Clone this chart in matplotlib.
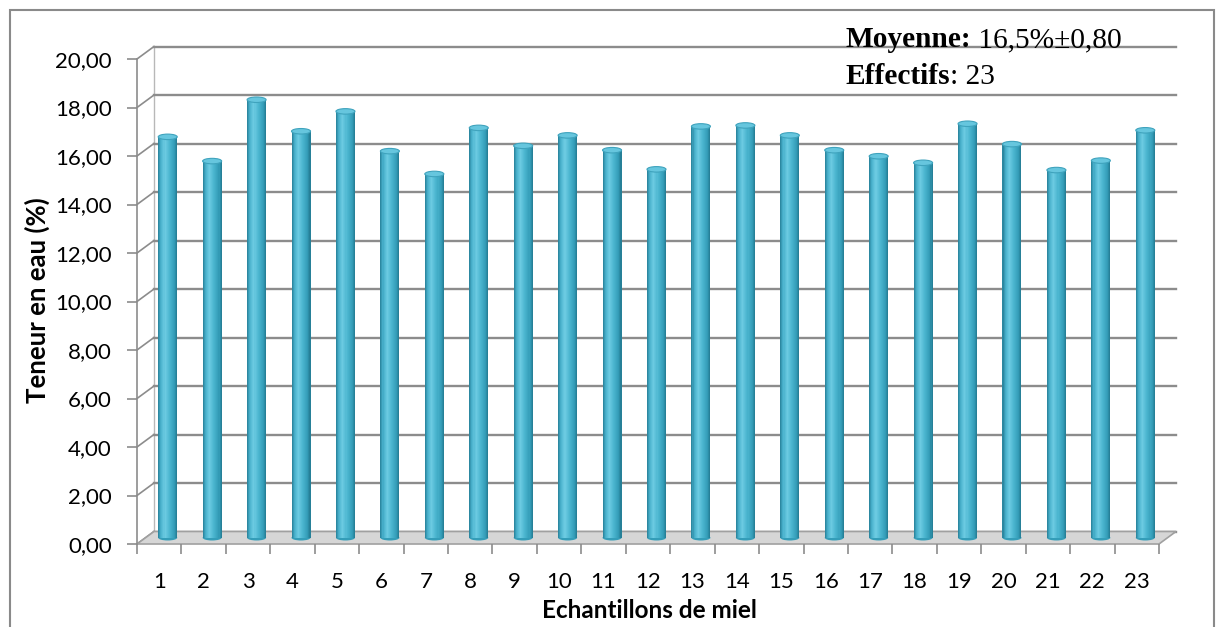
import numpy as np
import matplotlib
matplotlib.use("Agg")
import matplotlib.pyplot as plt
from matplotlib.patches import Polygon, Ellipse, Rectangle
from matplotlib.colors import LinearSegmentedColormap

# data
samples = [str(i) for i in range(1, 24)]
teneur = [16.79, 15.79, 18.32, 17.02, 17.84, 16.20, 15.26, 17.16, 16.42, 16.85, 16.24, 15.45,
          17.22, 17.26, 16.85, 16.24, 15.99, 15.72, 17.33, 16.49, 15.42, 15.81, 17.06]
yticks = np.arange(0, 21, 2)
ytick_labels = [("%.2f" % v).replace(".", ",") for v in yticks]

W, H = 1224, 627
fig = plt.figure(figsize=(W / 100, H / 100), dpi=100)

# front plot area in pixels
x0, x1, y0, y1 = 137, 1159, 544, 59
ax = fig.add_axes([x0 / W, (H - y0) / H, (x1 - x0) / W, (y0 - y1) / H])
n = len(samples)
ax.set_xlim(0.5, n + 0.5)
ax.set_ylim(0, 20)
for s in ax.spines.values():
    s.set_visible(False)

px_x = (x1 - x0) / n          # pixels per category
px_y = (y0 - y1) / 20.0       # pixels per unit
dxu = 17 / px_x               # depth shift, data units
dyu = 12.5 / px_y

grid_c = "#8c8c8c"
# floor
floor = Polygon([(0.5, 0), (n + 0.5, 0), (n + 0.5 + dxu, dyu), (0.5 + dxu, dyu)],
                closed=True, facecolor="#d6d6d6", edgecolor="#a0a0a0", lw=1.2,
                zorder=1, clip_on=False)
ax.add_patch(floor)

# back wall gridlines + side wall slants
for v in yticks:
    ax.plot([0.5 + dxu, n + 0.5 + dxu], [v + dyu, v + dyu], color=grid_c, lw=1.7,
            zorder=0.5, clip_on=False)
    ax.plot([0.5, 0.5 + dxu], [v, v + dyu], color=grid_c, lw=1.2, zorder=0.5, clip_on=False)
ax.plot([0.5 + dxu, 0.5 + dxu], [dyu, 20 + dyu], color="#b8b8b8", lw=1, zorder=0.4, clip_on=False)
ax.plot([0.5, 0.5], [0, 20], color=grid_c, lw=1.2, zorder=2, clip_on=False)

# cylinders
cyl = LinearSegmentedColormap.from_list("cyl", [(0, "#267f98"), (0.15, "#48b0cb"),
                                                (0.35, "#6ccbe2"), (0.6, "#4ab5cf"),
                                                (0.85, "#349db8"), (1, "#237991")])
bw = 19 / px_x
nstrip = 18
sw = bw / nstrip
bot = dyu / 2                 # mid depth of the floor
capw = 5.5 / px_y
xs = np.arange(1, n + 1) + 8.5 / px_x
for xc, v in zip(xs, teneur):
    ax.add_patch(Ellipse((xc, bot), bw, capw, facecolor="#349db8", edgecolor="none",
                         zorder=3, clip_on=False))
    for k in range(nstrip):
        ax.bar(xc - bw / 2 + (k + 0.5) * sw, v - bot, width=sw * 1.02, bottom=bot,
               color=cyl((k + 0.5) / nstrip), linewidth=0, zorder=4, clip_on=False)
    ax.add_patch(Ellipse((xc, v), bw, capw, facecolor="#66c6de", edgecolor="#3fa3bd",
                         lw=0.8, zorder=5, clip_on=False))

# ticks
ax.set_yticks(yticks)
ax.set_yticklabels(ytick_labels, fontsize=16, family="Lato")
ax.tick_params(axis="y", direction="out", length=7, width=1.2, color=grid_c, pad=11)
ax.set_xticks(np.arange(1, n + 1))
ax.set_xticklabels(samples, fontsize=16, family="Lato")
ax.set_xticks(np.arange(0.5, n + 1), minor=True)
ax.tick_params(axis="x", which="major", length=0, pad=20)
ax.tick_params(axis="x", which="minor", direction="out", length=7, width=1.2, color=grid_c)

fig.text(37 / W, (H - 300) / H, "Teneur en eau (%)", rotation=90, ha="center", va="center",
         fontsize=18.5, fontweight="bold", family="Lato")
fig.text(649 / W, (H - 611) / H, "Echantillons de miel", ha="center", va="center",
         fontsize=17.5, fontweight="bold", family="Lato")

# stats box
r = fig.canvas.get_renderer()
for yb, bold, rest in [(580, "Moyenne:", " 16,5%\u00b10,80"), (543, "Effectifs", ": 23")]:
    t1 = fig.text(845 / W, yb / H, bold, fontsize=21.2, fontweight="bold",
                  family="Liberation Serif", va="baseline")
    bb = t1.get_window_extent(r)
    fig.text(bb.x1 / W, yb / H, rest, fontsize=21.2, family="Liberation Serif", va="baseline")

# outer frame
fig.patches.append(Rectangle((10 / W, -0.05), 1204 / W, (H - 10) / H + 0.05,
                             transform=fig.transFigure, fill=False, edgecolor="#8a8a8a",
                             lw=1.5))

fig.savefig("out.png", dpi=100)
